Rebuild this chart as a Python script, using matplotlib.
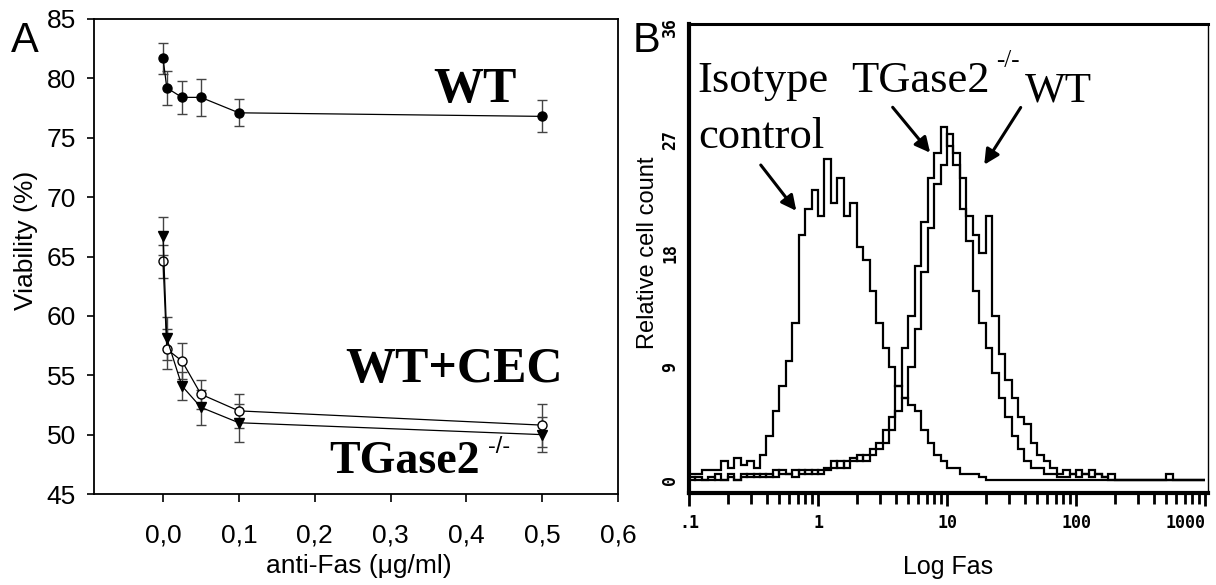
import matplotlib
matplotlib.use("Agg")
import matplotlib.pyplot as plt
import numpy as np

# ---- panel A: viability vs anti-Fas dose ----
dose = [0.0, 0.005, 0.025, 0.05, 0.1, 0.5]
wt = [81.7, 79.2, 78.4, 78.4, 77.1, 76.8]
wt_err = [1.3, 1.4, 1.4, 1.55, 1.15, 1.35]
tg = [66.7, 58.1, 54.1, 52.3, 51.0, 50.0]
tg_err = [1.6, 1.8, 1.2, 1.5, 1.6, 1.5]
cec = [64.6, 57.2, 56.2, 53.4, 52.0, 50.8]
cec_err = [1.4, 1.7, 1.5, 1.2, 1.4, 1.8]

xticks_a = [0.0, 0.1, 0.2, 0.3, 0.4, 0.5, 0.6]
xlabels_a = ["0,0", "0,1", "0,2", "0,3", "0,4", "0,5", "0,6"]
yticks_a = [45, 50, 55, 60, 65, 70, 75, 80, 85]

# ---- panel B: Fas flow cytometry histograms (80 channels, 0.1 .. 1000) ----
iso_counts = [
    0.5, 0.5, 0.8, 0.8, 0.8, 1.5, 1.0, 1.8, 1.2, 1.5,
    1.0, 2.0, 3.5, 5.5, 7.5, 9.5, 12.5, 19.5, 21.5, 23.0,
    21.0, 25.5, 22.0, 24.0, 21.0, 22.0, 18.5, 17.5, 15.0, 12.5,
    10.5, 9.0, 7.5, 6.5, 6.0, 5.5, 4.0, 3.0, 2.0, 1.5,
    1.0, 1.0, 0.5, 0.5, 0.5, 0.3, 0.0, 0.0, 0.0, 0.0,
    0.0, 0.0, 0.0, 0.0, 0.0, 0.0, 0.0, 0.0, 0.0, 0.0,
    0.0, 0.0, 0.0, 0.0, 0.0, 0.0, 0.0, 0.0, 0.0, 0.0,
    0.0, 0.0, 0.0, 0.0, 0.0, 0.0, 0.0, 0.0, 0.0, 0.0,
]
tg_counts = [
    0.3, 0.0, 0.0, 0.3, 0.0, 0.0, 0.5, 0.0, 0.3, 0.5,
    0.3, 0.5, 0.3, 0.8, 0.5, 0.5, 0.8, 0.5, 0.8, 0.5,
    0.8, 1.0, 1.5, 1.0, 1.5, 1.8, 1.5, 2.0, 2.5, 3.0,
    4.0, 5.0, 7.5, 10.5, 13.0, 17.0, 20.5, 24.0, 26.0, 28.0,
    26.5, 25.0, 21.5, 19.0, 15.0, 12.5, 10.5, 8.5, 6.5, 5.0,
    3.5, 2.5, 1.5, 1.0, 1.0, 0.5, 0.5, 0.3, 0.3, 0.5,
    0.3, 0.5, 0.3, 0.5, 0.3, 0.0, 0.0, 0.0, 0.0, 0.0,
    0.0, 0.0, 0.0, 0.0, 0.0, 0.0, 0.0, 0.0, 0.0, 0.0,
]
wt_counts = [
    0.0, 0.3, 0.0, 0.0, 0.5, 0.0, 0.3, 0.0, 0.5, 0.3,
    0.5, 0.3, 0.5, 0.3, 0.8, 0.5, 0.3, 0.8, 0.5, 0.8,
    0.5, 0.8, 1.0, 1.5, 1.0, 1.5, 2.0, 1.5, 2.0, 2.5,
    3.0, 4.0, 5.5, 6.5, 9.0, 12.0, 16.5, 20.0, 23.5, 25.0,
    27.5, 26.0, 24.0, 21.0, 19.5, 18.0, 21.0, 13.0, 10.0, 8.0,
    6.5, 5.0, 4.5, 3.0, 2.0, 1.5, 1.0, 0.5, 0.8, 0.5,
    0.8, 0.5, 0.8, 0.5, 0.3, 0.5, 0.0, 0.0, 0.0, 0.0,
    0.0, 0.0, 0.0, 0.0, 0.5, 0.0, 0.0, 0.0, 0.0, 0.0,
]
xticks_b = [0.1, 1, 10, 100, 1000]
xlabels_b = [".1", "1", "10", "100", "1000"]
yticks_b = [0, 9, 18, 27, 36]

SANS = ["Liberation Sans", "DejaVu Sans"]
SERIF = ["Liberation Serif", "DejaVu Serif"]
MONO = ["DejaVu Sans Mono"]

fig = plt.figure(figsize=(12.16, 5.85), dpi=100)
W, H = 1216.0, 585.0

# ================= panel A =================
axA = fig.add_axes([94 / W, 1 - 494 / H, 524 / W, 475 / H])
ebkw = dict(ecolor="#444444", elinewidth=1.0, capsize=3.5, capthick=1.0,
            color="black", lw=0.9, ms=6.5)
axA.errorbar(dose, cec, yerr=cec_err, marker="o", mfc="white", mec="black", **ebkw)
axA.errorbar(dose, tg, yerr=tg_err, marker="v", mfc="black", mec="black", **ebkw)
axA.errorbar(dose, wt, yerr=wt_err, marker="o", mfc="black", mec="black", **ebkw)

axA.set_xlim(-0.091, 0.6)
axA.set_ylim(45, 85)
axA.set_xticks(xticks_a)
axA.set_xticklabels(xlabels_a, family=SANS, fontsize=19)
axA.set_yticks(yticks_a)
axA.set_yticklabels([str(v) for v in yticks_a], family=SANS, fontsize=19)
axA.tick_params(axis="x", direction="out", length=6, width=1.2, pad=15)
axA.tick_params(axis="y", direction="out", length=5, width=1.2, pad=8)
for s in axA.spines.values():
    s.set_linewidth(1.3)

axA.text(0.356, 78.0, "WT", family=SERIF, fontweight="bold", fontsize=36,
         va="baseline", ha="left")
axA.text(0.240, 54.4, "WT+CEC", family=SERIF, fontweight="bold", fontsize=36,
         va="baseline", ha="left")
axA.text(0.219, 46.8, "TGase2", family=SERIF, fontweight="bold", fontsize=33,
         va="baseline", ha="left")
axA.text(0.429, 49.9, "-/-", family=SANS, fontsize=17, va="top", ha="left")

fig.text(26 / W, 1 - 240 / H, "Viability (%)", rotation=90, ha="center",
         va="center", family=SANS, fontsize=19)
fig.text(359 / W, 1 - 566 / H, "anti-Fas (\u03bcg/ml)", ha="center", va="center",
         family=SANS, fontsize=19)
fig.text(11 / W, 1 - 52 / H, "A", family=SANS, fontsize=30, va="baseline", ha="left")

# ================= panel B =================
axB = fig.add_axes([689 / W, 1 - 493 / H, 519 / W, 469 / H])
edges = np.logspace(-1, 3, len(iso_counts) + 1)
for counts in (iso_counts, tg_counts, wt_counts):
    axB.stairs(counts, edges, baseline=None, color="black", lw=1.6)

axB.set_xscale("log")
axB.set_xlim(0.1, 1055)
axB.set_ylim(-1.0, 36.2)
axB.set_xticks(xticks_b)
axB.set_xticklabels(xlabels_b, family=MONO, fontsize=12, fontweight="bold")
axB.get_xticklabels()[-1].set_horizontalalignment("right")
axB.set_yticks(yticks_b)
axB.set_yticklabels([str(v) for v in yticks_b], family=MONO, fontsize=12,
                    fontweight="bold", rotation=90, va="center")
axB.xaxis.set_minor_locator(matplotlib.ticker.LogLocator(base=10, subs=np.arange(2, 10)))
axB.xaxis.set_minor_formatter(matplotlib.ticker.NullFormatter())
axB.tick_params(axis="x", which="major", direction="out", length=9, width=2.0, pad=6)
axB.tick_params(axis="x", which="minor", direction="out", length=8, width=2.0)
axB.tick_params(axis="y", length=0, pad=7)
axB.spines["bottom"].set_linewidth(3.0)
axB.spines["left"].set_linewidth(3.0)
axB.spines["top"].set_linewidth(2.2)
axB.spines["right"].set_linewidth(1.0)

tkw = dict(family=SERIF, fontsize=32, transform=axB.transAxes, va="baseline", ha="left")
axB.text(0.017, 0.855, "Isotype", **tkw)
axB.text(0.017, 0.736, "control", **tkw)
axB.text(0.312, 0.855, "TGase2", **tkw)
axB.text(0.647, 0.834, "WT", family=SERIF, fontsize=31, transform=axB.transAxes,
         va="baseline", ha="left")
axB.text(0.592, 0.945, "-/-", family=SERIF, fontsize=18, transform=axB.transAxes,
         va="top", ha="left")

akw = dict(arrowstyle="-|>,head_length=0.9,head_width=0.45", color="black", lw=2.2)
for (x0, y0), (x1, y1) in [((0.135, 0.704), (0.210, 0.597)),
                           ((0.389, 0.827), (0.468, 0.721)),
                           ((0.642, 0.827), (0.566, 0.695))]:
    axB.annotate("", xy=(x1, y1), xytext=(x0, y0), xycoords="axes fraction",
                 textcoords="axes fraction", arrowprops=akw)

fig.text(648 / W, 1 - 253 / H, "Relative cell count", rotation=90, ha="center",
         va="center", family=SANS, fontsize=17)
fig.text(948 / W, 1 - 567 / H, "Log Fas", ha="center", va="center",
         family=SANS, fontsize=18)
fig.text(633 / W, 1 - 52 / H, "B", family=SANS, fontsize=30, va="baseline", ha="left")

fig.savefig("out.png", dpi=100)
